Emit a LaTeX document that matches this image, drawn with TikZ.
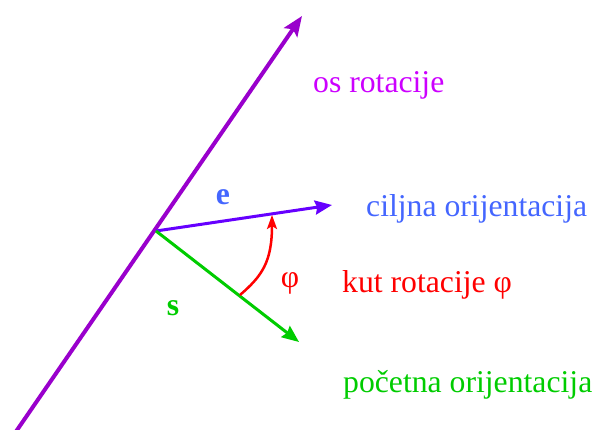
\documentclass[tikz,border=0pt]{standalone}
\usepackage{fontspec}
\setmainfont{Liberation Serif}
\usepackage{xcolor}
\usetikzlibrary{arrows.meta, positioning}
\definecolor{clrAxis}{RGB}{153,0,204}
\definecolor{clrAxisTxt}{RGB}{204,0,255}
\definecolor{clrEnd}{RGB}{102,0,255}
\definecolor{clrEndTxt}{RGB}{68,102,255}
\definecolor{clrStart}{RGB}{0,204,0}
\definecolor{clrAngle}{RGB}{255,0,0}

\begin{document}
\begin{tikzpicture}[
  x=1pt, y=-1pt,
  lbl/.style={anchor=base west, inner sep=0pt, font=\fontsize{31.7}{38}\selectfont},
  vlbl/.style={inner sep=0pt, font=\fontsize{31.7}{38}\selectfont\bfseries},
  axisarr/.style={-{Stealth[length=20pt,width=16pt,inset=4pt]}, line width=4pt, color=clrAxis},
  vecarr/.style={-{Stealth[length=17pt,width=14pt,inset=2pt]}, line width=3pt},
  angarr/.style={-{Stealth[length=14pt,width=10pt,inset=3pt]}, line width=2.5pt, color=clrAngle}
]
\useasboundingbox (0,0) rectangle (595,430);

\coordinate (axbot) at (15,433);
\coordinate (axtop) at (302,16);
\coordinate (orig)  at (156,231);
\coordinate (etip)  at (332,205);
\coordinate (stip)  at (299,342);
\coordinate (angs)  at (240,295);
\coordinate (ange)  at (272,215);

% rotation axis and the two orientations
\draw[axisarr] (axbot) -- (axtop);
\draw[vecarr, color=clrEnd]   (orig) -- (etip);
\draw[vecarr, color=clrStart] (orig) -- (stip);
\draw[angarr] (angs) .. controls (262,276) and (272,262) .. (ange);

\node[vlbl, text=clrEndTxt] (elbl) at (223,197) {e};
\node[vlbl, text=clrStart]  (slbl) at (173,308) {s};
\node[inner sep=0pt, text=clrAngle, font=\fontsize{31.7}{38}\selectfont] (philbl) at (290,283) {φ};

\node[lbl, text=clrAxisTxt] (axtxt)  at (313,93)  {os rotacije};
\node[lbl, text=clrEndTxt]  (endtxt) at (366,217) {ciljna orijentacija};
\node[lbl, text=clrAngle]   (angtxt) at (342,293) {kut rotacije φ};
\node[lbl, text=clrStart]   (sttxt)  at (343,393) {početna orijentacija};

\end{tikzpicture}
\end{document}
